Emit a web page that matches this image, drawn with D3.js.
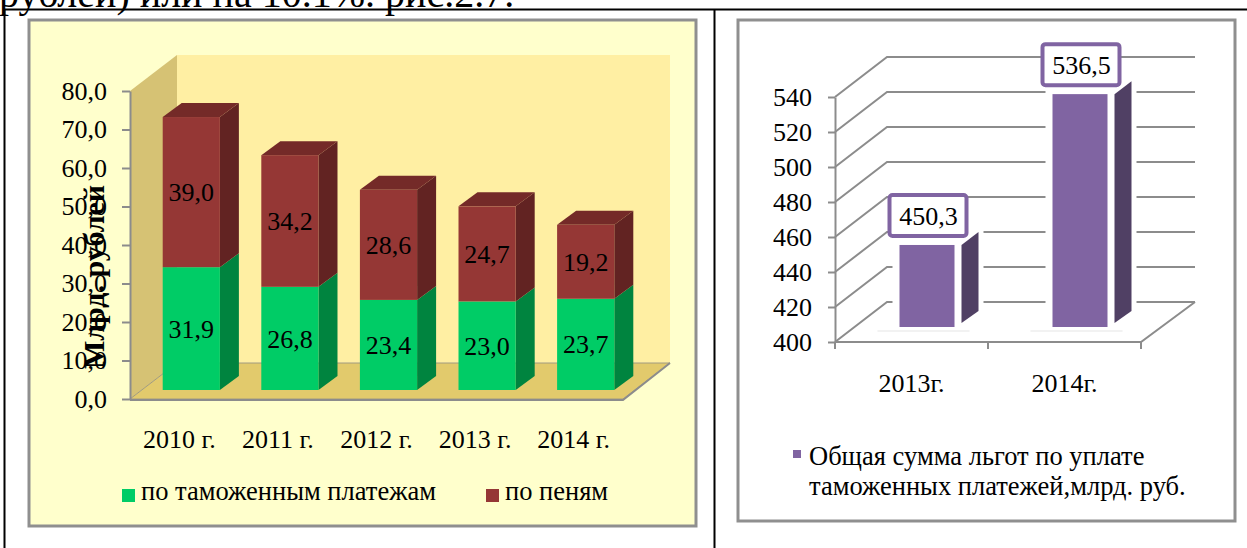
<!DOCTYPE html>
<html>
<head>
<meta charset="utf-8">
<script src="https://cdn.jsdelivr.net/npm/d3@7"></script>
<style>
body { margin: 0; background: #fff; }
svg { display: block; font-family: "Liberation Serif", "Times New Roman", serif; }
</style>
</head>
<body>
<svg id="chart" width="1247" height="548"></svg>
<script>
// left chart: stacked 3D columns
var years = ["2010 г.", "2011 г.", "2012 г.", "2013 г.", "2014 г."];
var customs = [31.9, 26.8, 23.4, 23.0, 23.7];   // по таможенным платежам
var penalties = [39.0, 34.2, 28.6, 24.7, 19.2]; // по пеням
var seriesNames = ["по таможенным платежам", "по пеням"];
var leftTicks = [0, 10, 20, 30, 40, 50, 60, 70, 80];

// right chart: total benefits
var years2 = ["2013г.", "2014г."];
var benefits = [450.3, 536.5];
var rightTicks = [400, 420, 440, 460, 480, 500, 520, 540];
var legend2 = ["Общая сумма льгот по уплате", "таможенных платежей,млрд. руб."];

var svg = d3.select("#chart");
var ru = d3.formatLocale({decimal: ",", thousands: " ", grouping: [3], currency: ["", ""]});
var f1 = ru.format(".1f");
var poly = function(pts) { return "M" + pts.map(function(p) { return p.join(","); }).join("L") + "Z"; };

// page text (cut by the top edge, as in the document) + table lines
svg.append("text").attr("x", -1).attr("y", 7).attr("font-size", 40)
  .text("рублей) или на 10.1%. рис.2.7.");
svg.append("line").attr("x1", 4).attr("x2", 1247).attr("y1", 9.5).attr("y2", 9.5)
  .attr("stroke", "#000").attr("stroke-width", 2);
[4.5, 714.5].forEach(function(x) {
  svg.append("line").attr("x1", x).attr("x2", x).attr("y1", 9).attr("y2", 548)
    .attr("stroke", "#000").attr("stroke-width", 2);
});

//////////////////
// LEFT CHART  //
//////////////////
var L = svg.append("g");
L.append("rect").attr("x", 29).attr("y", 20).attr("width", 667).attr("height", 506)
  .attr("fill", "#ffffcc").attr("stroke", "#8f8f8f").attr("stroke-width", 3);

var yL = d3.scaleLinear().domain([0, 80]).range([399, 91]);
var xL = d3.scaleBand().domain(years).range([130, 623]).paddingInner(0.42).paddingOuter(0.21);
var dx = 47, dy = -36;
var x0 = 130, x1 = 623, yTop = yL(80), yBot = yL(0);

L.append("path").attr("d", poly([[x0, yTop], [x0 + dx, yTop + dy], [x0 + dx, yBot + dy], [x0, yBot]]))
  .attr("fill", "#d6c274");
L.append("path").attr("d", poly([[x0 + dx, yTop + dy], [x1 + dx, yTop + dy], [x1 + dx, yBot + dy], [x0 + dx, yBot + dy]]))
  .attr("fill", "#ffefa3");
L.append("path").attr("d", poly([[x0, yBot], [x1, yBot], [x1 + dx, yBot + dy], [x0 + dx, yBot + dy]]))
  .attr("fill", "#e2ca6c").attr("stroke", "#a09a80").attr("stroke-width", 1);
L.append("path").attr("d", "M" + x0 + "," + (yBot + 1) + "L" + x1 + "," + (yBot + 1) + "L" + (x1 + dx) + "," + (yBot + dy))
  .attr("fill", "none").attr("stroke", "#8c8c8c").attr("stroke-width", 2);

var stacked = d3.stack().keys([0, 1])(years.map(function(y, i) { return [customs[i], penalties[i]]; }));
var colors = [
  {front: "#00cc66", side: "#00843f", top: "#00a852"},
  {front: "#953735", side: "#622322", top: "#742a28"}
];
var bw = xL.bandwidth(), bdx = 19, bdy = -14, offX = 12, offY = -9;

years.forEach(function(yr, i) {
  var bx = xL(yr) + offX;
  stacked.forEach(function(s, k) {
    var yt = yL(s[i][1]) + offY, yb = yL(s[i][0]) + offY, c = colors[k];
    L.append("path").attr("d", poly([[bx + bw, yb], [bx + bw + bdx, yb + bdy], [bx + bw + bdx, yt + bdy], [bx + bw, yt]]))
      .attr("fill", c.side);
    if (k === stacked.length - 1) {
      L.append("path").attr("d", poly([[bx, yt], [bx + bdx, yt + bdy], [bx + bw + bdx, yt + bdy], [bx + bw, yt]]))
        .attr("fill", c.top);
    }
    L.append("rect").attr("x", bx).attr("y", yt).attr("width", bw).attr("height", yb - yt)
      .attr("fill", c.front);
    L.append("text").attr("x", bx + bw / 2).attr("y", (yt + yb) / 2).attr("dy", "0.35em")
      .attr("text-anchor", "middle").attr("font-size", 26).text(f1(s[i][1] - s[i][0]));
  });
});

var axL = L.append("g").attr("transform", "translate(130,0)")
  .call(d3.axisLeft(yL).tickValues(leftTicks).tickSize(8).tickSizeOuter(0).tickPadding(15).tickFormat(f1));
axL.attr("font-family", null).attr("font-size", null);
axL.select(".domain").attr("stroke", "#8c8c8c").attr("stroke-width", 2);
axL.selectAll(".tick line").attr("stroke", "#8c8c8c").attr("stroke-width", 2);
axL.selectAll(".tick text").attr("font-size", 26).attr("fill", "#000");

L.append("text").attr("transform", "translate(93,277) rotate(-90)")
  .attr("text-anchor", "middle").attr("dy", "0.35em").attr("font-size", 30).attr("font-weight", "bold")
  .text("Млрд. рублей");

L.selectAll(".cat").data(years).enter().append("text")
  .attr("x", function(d) { return xL(d) + bw / 2; }).attr("y", 448)
  .attr("text-anchor", "middle").attr("font-size", 26).text(function(d) { return d; });

var legX = [122, 486];
seriesNames.forEach(function(n, k) {
  L.append("rect").attr("x", legX[k]).attr("y", 489).attr("width", 13).attr("height", 13).attr("fill", colors[k].front);
  L.append("text").attr("x", legX[k] + 19).attr("y", 500).attr("font-size", 26.5).text(n);
});

//////////////////
// RIGHT CHART //
//////////////////
var R = svg.append("g");
R.append("rect").attr("x", 738).attr("y", 20).attr("width", 497).attr("height", 501)
  .attr("fill", "#fff").attr("stroke", "#8f8f8f").attr("stroke-width", 3);

var yR = d3.scaleLinear().domain([400, 540]).range([342, 97]);
var xR = d3.scaleBand().domain(years2).range([835, 1141]);
var rdx = 52, rdy = -40, rx0 = 835, rx1 = 1141, rBack = 1195;

rightTicks.forEach(function(t) {
  R.append("path").attr("d", "M" + rx0 + "," + yR(t) + "L" + (rx0 + rdx) + "," + (yR(t) + rdy) + "L" + rBack + "," + (yR(t) + rdy))
    .attr("fill", "none").attr("stroke", "#8c8c8c").attr("stroke-width", 2);
});
R.append("path").attr("d", "M" + rx0 + "," + yR(400) + "L" + rx1 + "," + yR(400) + "L" + rBack + "," + (yR(400) + rdy))
  .attr("fill", "none").attr("stroke", "#8c8c8c").attr("stroke-width", 2);

var edges = [rx0].concat(years2.map(function(d) { return xR(d) + xR.bandwidth(); }));
edges.forEach(function(x) {
  R.append("line").attr("x1", x).attr("x2", x).attr("y1", yR(400)).attr("y2", yR(400) + 7)
    .attr("stroke", "#8c8c8c").attr("stroke-width", 2);
});

var axR = R.append("g").attr("transform", "translate(835,0)")
  .call(d3.axisLeft(yR).tickValues(rightTicks).tickSize(7).tickSizeOuter(0).tickPadding(16));
axR.attr("font-family", null).attr("font-size", null);
axR.select(".domain").attr("stroke", "#8c8c8c").attr("stroke-width", 2);
axR.selectAll(".tick line").attr("stroke", "#8c8c8c").attr("stroke-width", 2);
axR.selectAll(".tick text").attr("font-size", 26).attr("fill", "#000");

var pw = 55, yb2 = yR(400) - 15;
years2.forEach(function(yr, i) {
  var bx = xR(yr) + xR.bandwidth() / 2 - 12, yt = yR(benefits[i]) - 9;
  // white halo cuts the grid lines round the bar
  R.append("rect").attr("x", bx - 7).attr("y", yt - 15).attr("width", 91).attr("height", yb2 - yt + 18).attr("fill", "#fff");
  R.append("path").attr("d", poly([[bx + 62, yb2 - 4], [bx + 79, yb2 - 16], [bx + 79, yt - 13], [bx + 62, yt]]))
    .attr("fill", "#504064");
  R.append("rect").attr("x", bx).attr("y", yt).attr("width", pw).attr("height", yb2 - yt).attr("fill", "#8064a2");
  R.append("line").attr("x1", bx - 22).attr("x2", bx + 70).attr("y1", yb2 + 4).attr("y2", yb2 + 4)
    .attr("stroke", "#f2f2f2").attr("stroke-width", 2);
  var cx = bx + 28;
  R.append("rect").attr("x", cx - 38).attr("y", yt - 50).attr("width", 77).attr("height", 41).attr("rx", 3)
    .attr("fill", "#fff").attr("stroke", "#8064a2").attr("stroke-width", 4);
  R.append("text").attr("x", cx + 1).attr("y", yt - 29).attr("dy", "0.35em").attr("text-anchor", "middle")
    .attr("font-size", 26).text(f1(benefits[i]));
});

R.selectAll(".cat2").data(years2).enter().append("text")
  .attr("x", function(d) { return xR(d) + xR.bandwidth() / 2; }).attr("y", 392)
  .attr("text-anchor", "middle").attr("font-size", 26).text(function(d) { return d; });

R.append("rect").attr("x", 793).attr("y", 450).attr("width", 8).attr("height", 8).attr("fill", "#8064a2");
legend2.forEach(function(line, k) {
  R.append("text").attr("x", 809).attr("y", 465 + k * 30).attr("font-size", 26.5).text(line);
});
</script>
</body>
</html>
